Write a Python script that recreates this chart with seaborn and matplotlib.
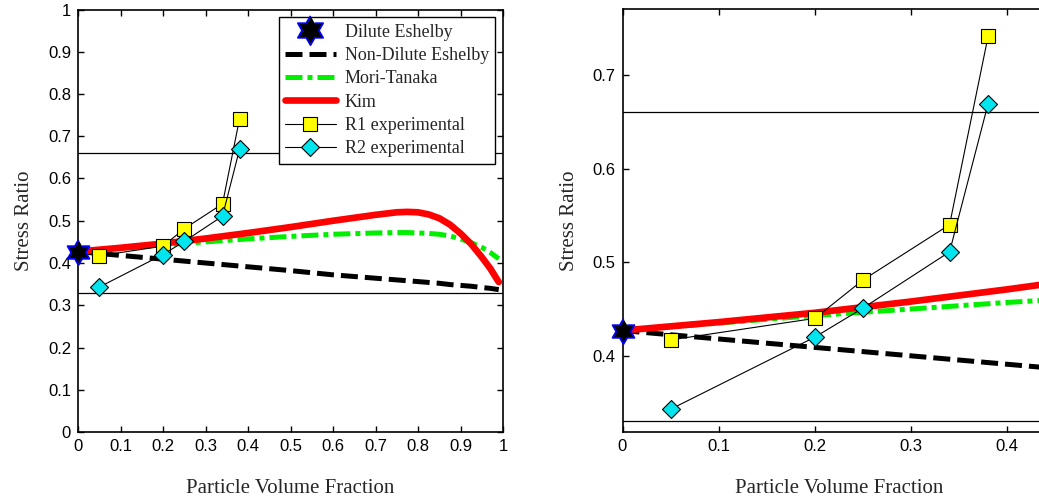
import numpy as np
import pandas as pd
import matplotlib
matplotlib.use("Agg")
import matplotlib.pyplot as plt
from matplotlib.lines import Line2D
import seaborn as sns

# ---------------- data ----------------
vf = [0, 0.1, 0.2, 0.3, 0.4, 0.5, 0.6, 0.7, 0.75, 0.775, 0.8, 0.825, 0.85, 0.875, 0.9, 0.925, 0.95, 0.97, 0.99]
kim = [0.427, 0.436, 0.446, 0.458, 0.471, 0.485, 0.500, 0.514, 0.520, 0.521, 0.520, 0.515, 0.506, 0.491, 0.470, 0.445, 0.414, 0.387, 0.355]
mori_tanaka = [0.427, 0.435, 0.443, 0.450, 0.457, 0.463, 0.468, 0.471, 0.472, 0.472, 0.471, 0.470, 0.468, 0.464, 0.457, 0.448, 0.437, 0.425, 0.410]
non_dilute = [0.427, 0.418, 0.409, 0.400, 0.391, 0.382, 0.372, 0.364, 0.360, 0.358, 0.356, 0.354, 0.352, 0.349, 0.347, 0.345, 0.342, 0.340, 0.337]
dilute_x = [0.0]
dilute_y = [0.427]
r1_x = [0.05, 0.20, 0.25, 0.34, 0.38]
r1_y = [0.417, 0.440, 0.481, 0.540, 0.741]
r2_x = [0.05, 0.20, 0.25, 0.34, 0.38]
r2_y = [0.343, 0.420, 0.451, 0.511, 0.669]
bounds = [0.33, 0.66]

sns.set_style("ticks")
plt.rcParams["font.family"] = ["Liberation Sans", "DejaVu Sans"]

serif = ["Liberation Serif", "DejaVu Serif"]

# hexagram marker (two overlapping triangles)
ang = np.pi / 2 + np.arange(12) * np.pi / 6
rad = np.where(np.arange(12) % 2 == 0, 1.0, 1 / np.sqrt(3))
hexagram = list(zip(rad * np.cos(ang), rad * np.sin(ang)))

ND_DASH = (3.4, 1.4)
MT_DASH = (3.4, 1.0, 1.0, 1.0)

fig = plt.figure(figsize=(10.39, 5.0), dpi=100)
ax1 = fig.add_axes([78 / 1039, 1 - 432 / 500, 425 / 1039, (432 - 9.5) / 500])
ax2 = fig.add_axes([622.5 / 1039, 1 - 431.7 / 500, 0.45 * 962 / 1039, (431.7 - 9.3) / 500])

curve = pd.DataFrame({"vf": vf, "kim": kim, "mt": mori_tanaka, "nd": non_dilute})
r1 = pd.DataFrame({"x": r1_x, "y": r1_y})
r2 = pd.DataFrame({"x": r2_x, "y": r2_y})


def draw(ax):
    for b in bounds:
        ax.axhline(b, color="black", lw=0.9, zorder=1)
    sns.lineplot(data=curve, x="vf", y="nd", ax=ax, color="black", lw=3.6,
                 sort=False, estimator=None, zorder=3)
    ax.lines[-1].set_dashes(ND_DASH)
    sns.lineplot(data=curve, x="vf", y="mt", ax=ax, color="#00ee00", lw=3.6,
                 sort=False, estimator=None, zorder=3)
    ax.lines[-1].set_dashes(MT_DASH)
    sns.lineplot(data=curve, x="vf", y="kim", ax=ax, color="#ff0000", lw=4.8,
                 sort=False, estimator=None, zorder=4)
    sns.lineplot(data=r1, x="x", y="y", ax=ax, color="black", lw=0.8, marker="s",
                 markersize=10, markerfacecolor="#ffff00", markeredgecolor="black",
                 markeredgewidth=0.8, sort=False, estimator=None, zorder=5)
    sns.lineplot(data=r2, x="x", y="y", ax=ax, color="black", lw=0.8, marker="D",
                 markersize=9.5, markerfacecolor="#00e5ee", markeredgecolor="black",
                 markeredgewidth=0.8, sort=False, estimator=None, zorder=5)
    sns.scatterplot(x=dilute_x, y=dilute_y, ax=ax, marker=hexagram, s=330,
                    color="black", edgecolor="#0000ff", linewidth=1.3, zorder=6,
                    clip_on=False)
    ax.set_xlabel("Particle Volume Fraction", fontfamily=serif, fontsize=15, labelpad=18)
    ax.set_ylabel("Stress Ratio", fontfamily=serif, fontsize=15, labelpad=10)
    ax.tick_params(direction="in", length=4, width=1, labelsize=12, top=True,
                   colors="black", pad=5)
    for s in ax.spines.values():
        s.set_linewidth(1.2)
        s.set_color("black")


draw(ax1)
ax1.set_xlim(0, 1)
ax1.set_ylim(0, 1)
ax1.set_xticks(np.arange(0, 1.01, 0.1))
ax1.set_yticks(np.arange(0, 1.01, 0.1))
ax1.set_xticklabels(["0", "0.1", "0.2", "0.3", "0.4", "0.5", "0.6", "0.7", "0.8", "0.9", "1"])
ax1.set_yticklabels(["0", "0.1", "0.2", "0.3", "0.4", "0.5", "0.6", "0.7", "0.8", "0.9", "1"])
ax1.tick_params(right=True)

draw(ax2)
ax2.set_xlim(0, 0.45)
ax2.set_ylim(0.319, 0.770)
ax2.set_xticks([0, 0.1, 0.2, 0.3, 0.4])
ax2.set_xticklabels(["0", "0.1", "0.2", "0.3", "0.4"])
ax2.set_yticks([0.4, 0.5, 0.6, 0.7])
ax2.set_yticklabels(["0.4", "0.5", "0.6", "0.7"])
ax2.tick_params(right=True)

handles = [
    Line2D([], [], ls="none", marker=hexagram, markersize=21, markerfacecolor="black",
           markeredgecolor="#0000ff", markeredgewidth=1.3),
    Line2D([], [], color="black", lw=3.6, dashes=ND_DASH),
    Line2D([], [], color="#00ee00", lw=3.6, dashes=MT_DASH),
    Line2D([], [], color="#ff0000", lw=4.8),
    Line2D([], [], color="black", lw=0.8, marker="s", markersize=10,
           markerfacecolor="#ffff00", markeredgecolor="black", markeredgewidth=0.8),
    Line2D([], [], color="black", lw=0.8, marker="D", markersize=9.5,
           markerfacecolor="#00e5ee", markeredgecolor="black", markeredgewidth=0.8),
]
labels = ["Dilute Eshelby", "Non-Dilute Eshelby", "Mori-Tanaka", "Kim",
          "R1 experimental", "R2 experimental"]
leg = ax1.legend(handles, labels, loc="upper right", bbox_to_anchor=(0.99, 0.99),
                 prop={"family": serif, "size": 13}, frameon=True, fancybox=False,
                 edgecolor="black", framealpha=1, handlelength=2.8, labelspacing=0.35,
                 borderpad=0.35, handletextpad=0.5, borderaxespad=0.2)
leg.get_frame().set_linewidth(1.0)

fig.savefig("out.png", dpi=100)
